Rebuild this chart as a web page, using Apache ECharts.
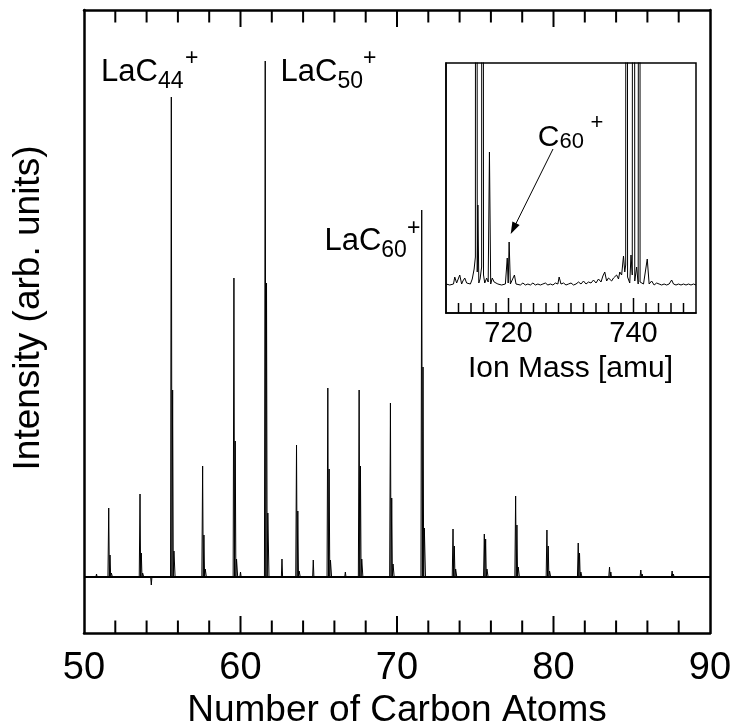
<!DOCTYPE html>
<html><head><meta charset="utf-8">
<script src="https://cdn.jsdelivr.net/npm/echarts@6/dist/echarts.min.js"></script>
<style>html,body{margin:0;padding:0;background:#fff}#c{width:733px;height:727px}</style>
</head><body><div id="c"></div>
<script>
// ---- Main spectrum (x = ion mass / 12, "number of carbon atoms") ----
const peakPos = [51.58, 53.58, 55.58, 57.58, 59.58, 61.58, 63.58, 65.58, 67.58, 69.58, 71.58, 73.58, 75.58, 77.58, 79.58, 81.58, 83.58, 85.58, 87.58];
const mainH   = [69, 83, 480, 111, 299, 516, 132, 189, 187, 174, 367, 48, 43, 81, 47, 34, 10, 7, 6];
const isoH    = [22, 24, 187, 42, 136, 294, 66, 108, 111, 79, 210, 31, 38, 52, 31, 24, 5, 3, 3];
const iso2H   = [4, 4, 26, 8, 18, 64, 6, 17, 18, 13, 49, 8, 8, 10, 6, 5, 2, 1, 1];
const minorPos = [50.8, 54.3, 60.0, 62.65, 64.65, 66.7, 86.6];
const minorH   = [3, -8, 5, 18, 17, 5, -2];
const mainTicks = [50, 60, 70, 80, 90];
const mainMajorMarks = [60, 70, 80];
const mainMinorMarks = [52, 54, 56, 58, 62, 64, 66, 68, 72, 74, 76, 78, 82, 84, 86, 88];

// ---- Inset spectrum (ion mass in amu) ----
const insetMass = [710.0,710.3,710.6,710.9,711.2,711.4,711.7,712.0,712.2,712.5,712.7,713.0,713.3,713.6,713.9,714.2,714.5,714.7,714.85,715.0,715.1,715.25,715.45,715.7,715.85,716.0,716.2,716.5,716.75,716.95,717.15,717.4,717.7,718.0,718.3,718.6,718.9,719.2,719.5,719.8,719.95,720.1,720.3,720.6,720.95,721.2,721.5,721.9,722.3,722.7,723.1,723.5,723.9,724.3,724.7,725.1,725.5,725.9,726.3,726.7,727.1,727.5,727.9,728.1,728.4,728.8,729.2,729.6,730.0,730.4,730.8,731.2,731.6,732.0,732.4,732.8,733.2,733.6,734.0,734.4,734.8,735.1,735.4,735.7,736.0,736.2,736.5,736.8,737.0,737.3,737.6,737.8,738.1,738.4,738.6,738.75,738.9,739.05,739.2,739.4,739.6,739.8,739.9,740.05,740.2,740.3,740.5,740.75,740.95,741.0,741.05,741.3,741.6,741.9,742.2,742.5,742.9,743.3,743.7,744.1,744.5,744.9,745.3,745.7,746.1,746.4,746.8,747.2,747.6,748.0,748.4,748.8,749.2,749.6,750.0];
const insetInt  = [3,5,2,4,3,10,4,6,12,3,6,9,4,5,3,8,18,30,2500,15,82,4,8,20,2500,12,4,9,5,135,3,9,5,7,3,5,2,4,3,29,4,45,3,5,12,3,5,2,4,2,3,2,4,2,3,2,3,4,2,3,2,4,3,10,3,4,2,3,4,2,3,5,3,6,3,5,4,7,4,8,5,11,15,6,9,11,6,9,7,12,8,15,12,31,15,22,2500,10,8,4,32,12,12,2500,6,6,20,3,5,2500,5,4,3,5,28,3,6,2,4,3,2,3,2,3,7,3,2,3,2,3,2,3,2,3,2];
const insetTicks = [720, 740];
const insetMinorMarks = [712, 714, 716, 718, 722, 724, 726, 728, 730, 732, 734, 736, 738, 742, 744, 746, 748];

const FONT = 'Liberation Sans, Arial, Helvetica, sans-serif';
const G0 = {left: 84, top: 10, width: 626, height: 623};
const G1 = {left: 446, top: 63, width: 250, height: 250};

function buildMain() {
  const pts = [];
  peakPos.forEach((c, i) => {
    pts.push([c - 0.05, 0], [c, mainH[i]], [c + 0.04, 0], [c + 0.083, isoH[i]], [c + 0.125, 0], [c + 0.167, iso2H[i]], [c + 0.24, 0]);
  });
  minorPos.forEach((c, i) => { pts.push([c - 0.04, 0], [c, minorH[i]], [c + 0.04, 0]); });
  pts.sort((a, b) => a[0] - b[0]);
  return [[50, 0]].concat(pts, [[90, 0]]);
}
const insetData = insetMass.map((m, i) => [m, insetInt[i]]);

const black = '#000';
const chart = echarts.init(document.getElementById('c'));

function txt(text, x, y, size, align, rot) {
  return {type: 'text', x: x, y: y, rotation: rot || 0, z: 100,
    style: {text: text, fontSize: size, fontFamily: FONT, fill: black, align: align || 'left', verticalAlign: 'middle'}};
}

const ax = (extra) => Object.assign({
  type: 'value', splitLine: {show: false},
  axisLine: {show: true, onZero: false, lineStyle: {color: black, width: 2.5}},
  axisTick: {show: false}, axisLabel: {show: false}
}, extra);

chart.setOption({
  animation: false,
  backgroundColor: '#fff',
  grid: [
    Object.assign({outerBoundsMode: 'none', containLabel: false}, G0),
    Object.assign({outerBoundsMode: 'none', containLabel: false,
      show: true, backgroundColor: '#fff', borderColor: black, borderWidth: 1.5}, G1)
  ],
  xAxis: [
    ax({gridIndex: 0, min: 50, max: 90, interval: 10, position: 'bottom',
      axisLabel: {show: true, fontSize: 38, fontFamily: FONT, color: black, margin: 36, verticalAlign: 'middle',
        customValues: mainTicks}}),
    ax({gridIndex: 0, min: 50, max: 90, interval: 10, position: 'top'}),
    ax({gridIndex: 1, min: 710, max: 750, position: 'bottom',
      axisLine: {show: true, onZero: false, lineStyle: {color: black, width: 1.5}},
      axisLabel: {show: true, customValues: insetTicks, fontSize: 29, fontFamily: FONT, color: black, margin: 21, verticalAlign: 'middle'}})
  ],
  yAxis: [
    ax({gridIndex: 0, min: -56, max: 567, position: 'left'}),
    ax({gridIndex: 0, min: -56, max: 567, position: 'right'}),
    ax({gridIndex: 1, min: -26, max: 224, position: 'left', axisLine: {show: true, onZero: false, lineStyle: {color: black, width: 1.5}}})
  ],
  series: [
    {type: 'line', xAxisIndex: 0, yAxisIndex: 0, data: buildMain(), symbol: 'none', clip: true,
      lineStyle: {color: black, width: 1}, z: 3,
      markLine: {silent: true, symbol: 'none', label: {show: false},
        lineStyle: {color: black, width: 2, type: 'solid'}, data: [{yAxis: 0}]}},
    {type: 'line', xAxisIndex: 2, yAxisIndex: 2, data: insetData, symbol: 'none', clip: true,
      lineStyle: {color: black, width: 1}, z: 3}
  ]
});

const g = [
  txt('Intensity (arb. units)', 28.5, 308, 37, 'center', Math.PI / 2),
  txt('Number of Carbon Atoms', G0.left + G0.width / 2, 711, 37, 'center'),
  txt('Ion Mass [amu]', G1.left + G1.width / 2 - 0.5, 369, 30, 'center'),
  txt('LaC', 101, 72, 31), txt('44', 158, 82, 23), txt('+', 185, 59, 23),
  txt('LaC', 280.5, 72, 31), txt('50', 337.4, 82, 23), txt('+', 363, 59, 23),
  txt('LaC', 324.4, 241, 31), txt('60', 381.3, 251, 23), txt('+', 407, 229, 23),
  txt('C', 537.8, 137.4, 30), txt('60', 559.5, 142.2, 22), txt('+', 590.6, 122.5, 22),
  {type: 'line', z: 100, shape: {x1: 553, y1: 149, x2: 514.5, y2: 226.5}, style: {stroke: black, lineWidth: 1}},
  {type: 'polygon', z: 100, shape: {points: [[510.7, 234], [519.6, 225.1], [512.4, 221.5]]}, style: {fill: black}}
];
function tick(x, yA, yB, w) {
  return {type: 'line', z: 120, silent: true, shape: {x1: x, y1: Math.min(yA, yB), x2: x, y2: Math.max(yA, yB)},
    style: {stroke: black, lineWidth: w}};
}
const yTop = G0.top, yBot = G0.top + G0.height;
const xOf = (v) => chart.convertToPixel({xAxisIndex: 0}, v);
mainMajorMarks.forEach(v => { const x = xOf(v); g.push(tick(x, yBot - 17, yBot, 2), tick(x, yTop, yTop + 17, 2)); });
mainMinorMarks.forEach(v => { const x = xOf(v); g.push(tick(x, yBot - 12.5, yBot, 2), tick(x, yTop, yTop + 12.5, 2)); });
const yInBot = G1.top + G1.height;
const xIn = (v) => chart.convertToPixel({xAxisIndex: 2}, v);
insetTicks.forEach(v => g.push(tick(xIn(v), yInBot - 15, yInBot, 1.5)));
insetMinorMarks.forEach(v => g.push(tick(xIn(v), yInBot - 10, yInBot, 1.5)));
chart.setOption({graphic: g});
</script>
</body></html>
